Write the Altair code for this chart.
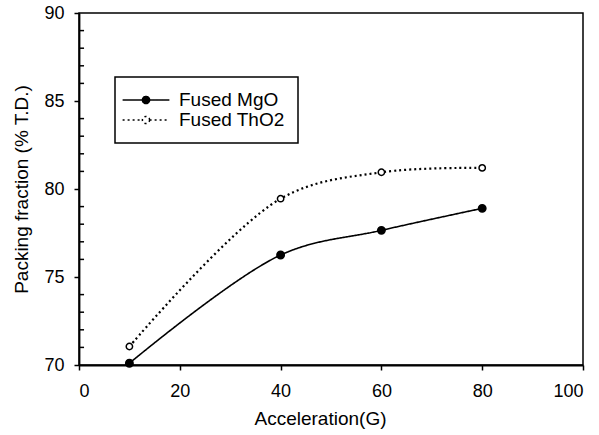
import altair as alt
import pandas as pd

# Packing fraction vs. centrifugal acceleration for two fused powders
accel = [10, 40, 60, 80]
mgo = [70.1, 76.25, 77.65, 78.9]
tho2 = [71.05, 79.45, 80.95, 81.2]
series_names = ["Fused MgO", "Fused ThO2"]

x_ticks = [0, 20, 40, 60, 80, 100]
y_ticks = [70, 75, 80, 85, 90]
y_minor = [v for v in range(70, 91) if v % 5]

rows = []
for name, vals in zip(series_names, [mgo, tho2]):
    for a, v in zip(accel, vals):
        rows.append({"accel": a, "frac": v, "series": name})
df = pd.DataFrame(rows)
legend_df = pd.DataFrame({"label": series_names})
minor_df = pd.DataFrame({"y": y_minor, "x0": [0] * len(y_minor),
                         "x1": [1] * len(y_minor)})

FONT = "Liberation Sans"

x_scale = alt.Scale(domain=[0, 100], nice=False, zero=False)
y_scale = alt.Scale(domain=[70, 90], nice=False, zero=False)

x_axis = alt.Axis(values=x_ticks, title="Acceleration(G)", tickSize=5,
                  labelPadding=12, titlePadding=9, titleX=241, grid=False)
y_axis = alt.Axis(values=y_ticks, title="Packing fraction (% T.D.)",
                  orient="left", tickSize=5, labelPadding=10,
                  titlePadding=12, grid=False)

is_mgo = "datum.series === 'Fused MgO'"

lines = alt.Chart(df).mark_line(interpolate="catmull-rom", color="black").encode(
    x=alt.X("accel:Q", scale=x_scale, axis=x_axis),
    y=alt.Y("frac:Q", scale=y_scale, axis=y_axis),
    strokeDash=alt.condition(is_mgo, alt.value([1, 0]), alt.value([2, 3])),
    strokeWidth=alt.condition(is_mgo, alt.value(1.6), alt.value(2.2)),
    detail="series:N",
)

points = alt.Chart(df).mark_point(shape="circle", stroke="black", strokeWidth=1.5,
                                  opacity=1).encode(
    x=alt.X("accel:Q", scale=x_scale),
    y=alt.Y("frac:Q", scale=y_scale),
    fill=alt.condition(is_mgo, alt.value("black"), alt.value("white")),
    size=alt.condition(is_mgo, alt.value(55), alt.value(40)),
)

# short inward minor ticks on the left edge, one x unit long
minor = alt.Chart(minor_df).mark_rule(color="black", strokeWidth=1.5).encode(
    x=alt.X("x0:Q", scale=x_scale),
    x2="x1:Q",
    y=alt.Y("y:Q", scale=y_scale),
)

# legend symbol: short line with a marker in the middle
sym = ("M-2.6,0L-0.4,0M0.4,0L2.6,0"
       "M0.4,0A0.4,0.4,0,1,1,-0.4,0A0.4,0.4,0,1,1,0.4,0")

legend_layer = alt.Chart(legend_df).transform_filter("false").mark_point(
    strokeWidth=1.5, opacity=1).encode(
    shape=alt.Shape("label:N",
                    scale=alt.Scale(domain=series_names, range=[sym, sym]),
                    legend=alt.Legend(orient="none", legendX=36, legendY=64,
                                      title=None, strokeColor="black",
                                      fillColor="white", padding=13,
                                      symbolSize=324, symbolStrokeWidth=1.5,
                                      symbolStrokeColor="black",
                                      symbolOffset=8, labelOffset=23,
                                      labelExpr="datum.label + '\u00a0\u00a0'",
                                      rowPadding=0, labelFont=FONT,
                                      labelFontSize=19, labelColor="black")),
    fill=alt.Fill("label:N",
                  scale=alt.Scale(domain=series_names, range=["black", "white"]),
                  title=None),
    stroke=alt.Stroke("label:N",
                      scale=alt.Scale(domain=series_names, range=["black", "black"]),
                      title=None),
    strokeDash=alt.StrokeDash("label:N",
                              scale=alt.Scale(domain=series_names,
                                              range=[[1, 0], [2, 3]]),
                              title=None),
)

chart = alt.layer(minor, lines, points, legend_layer).properties(
    width=504, height=352,
    autosize=alt.AutoSizeParams(type="none"),
    padding={"left": 79, "top": 13, "right": 16, "bottom": 70},
).configure_view(
    stroke="black", strokeWidth=1.5
).configure_axis(
    domainColor="black", domainWidth=1.8, tickColor="black", tickWidth=1.5,
    labelFont=FONT, labelFontSize=18, labelColor="black",
    titleFont=FONT, titleFontSize=19, titleFontWeight="normal",
    titleColor="black",
).configure_legend(
    strokeWidth=1.5
)

chart.save("out.html", embed_options={"renderer": "svg", "actions": False})
